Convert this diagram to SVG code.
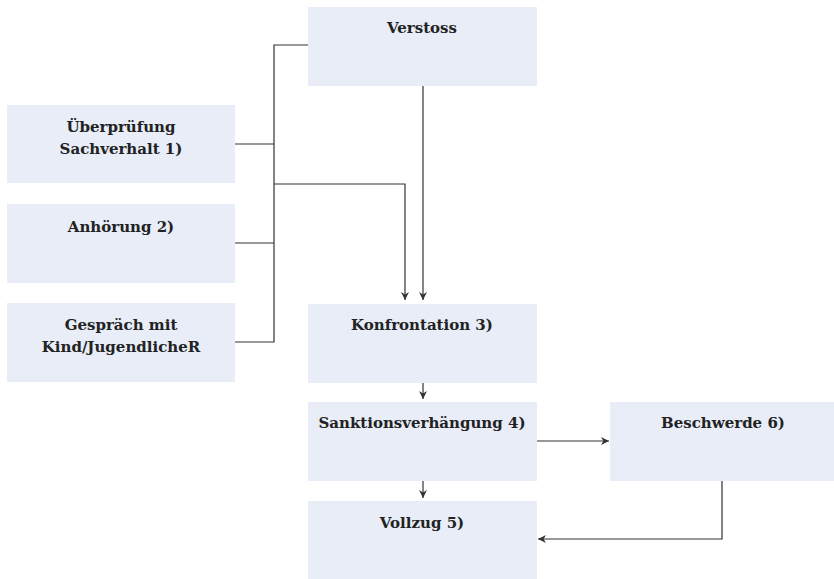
<svg xmlns="http://www.w3.org/2000/svg" width="834" height="579" viewBox="0 0 834 579">
<style>
.box{fill:#e8edf8}
.t{font-family:'DejaVu Serif','Liberation Serif',serif;font-weight:bold;font-size:15px;fill:#222;text-anchor:middle}
.c{fill:none;stroke:#333;stroke-width:1.2}
</style>
<defs>
<marker id="ah" viewBox="0 0 10 10" refX="10" refY="5" markerWidth="8" markerHeight="8" markerUnits="userSpaceOnUse" orient="auto">
<path d="M0,0 L10,5 L0,10 L3,5 z" fill="#333"/>
</marker>
</defs>
<g id="verstoss"><rect class="box" x="308" y="7" width="229" height="79"/><text class="t" x="422" y="33">Verstoss</text></g>
<g id="ueberpruefung"><rect class="box" x="7" y="105" width="228" height="78"/><text class="t" x="121" y="132">Überprüfung</text><text class="t" x="121" y="154">Sachverhalt 1)</text></g>
<g id="anhoerung"><rect class="box" x="7" y="204" width="228" height="79"/><text class="t" x="121" y="232">Anhörung 2)</text></g>
<g id="gespraech"><rect class="box" x="7" y="303" width="228" height="79"/><text class="t" x="121" y="330">Gespräch mit</text><text class="t" x="121" y="352">Kind/JugendlicheR</text></g>
<g id="konfrontation"><rect class="box" x="308" y="304" width="229" height="79"/><text class="t" x="422" y="330">Konfrontation 3)</text></g>
<g id="sanktion"><rect class="box" x="308" y="402" width="229" height="79"/><text class="t" x="422" y="428">Sanktionsverhängung 4)</text></g>
<g id="vollzug"><rect class="box" x="308" y="501" width="229" height="78"/><text class="t" x="422" y="528">Vollzug 5)</text></g>
<g id="beschwerde"><rect class="box" x="610" y="402" width="228" height="79"/><text class="t" x="723" y="428">Beschwerde 6)</text></g>
<g id="connectors">
<path class="c" d="M308,45 H274 V342 H235"/>
<path class="c" d="M235,144 H274"/>
<path class="c" d="M235,243 H274"/>
<path class="c" d="M274,184 H405 V300" marker-end="url(#ah)"/>
<path class="c" d="M423,86 V300" marker-end="url(#ah)"/>
<path class="c" d="M423,383 V399" marker-end="url(#ah)"/>
<path class="c" d="M423,481 V498" marker-end="url(#ah)"/>
<path class="c" d="M537,441 H609" marker-end="url(#ah)"/>
<path class="c" d="M722,481 V539 H538" marker-end="url(#ah)"/>
</g>
</svg>
